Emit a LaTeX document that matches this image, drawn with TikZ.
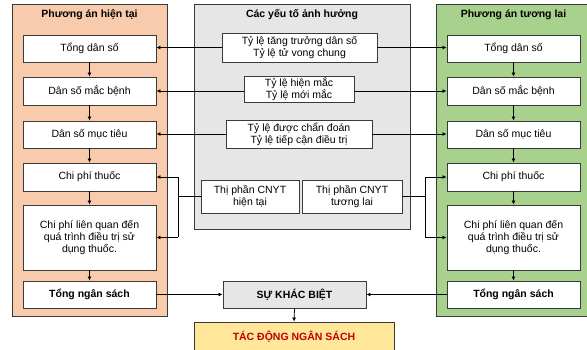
\documentclass[tikz,border=0pt]{standalone}
\usepackage{fontspec}
\setmainfont{Liberation Sans}
\usetikzlibrary{arrows.meta}
\definecolor{peach}{HTML}{F8CBAD}
\definecolor{leaf}{HTML}{A9D18E}
\definecolor{panelgray}{HTML}{E6E6E6}
\definecolor{edge}{HTML}{3A3A3A}
\definecolor{gold}{HTML}{FFE699}
\definecolor{redtext}{HTML}{C00000}
\begin{document}
\begin{tikzpicture}[x=1pt,y=-1pt,
  panel/.style={draw=edge, line width=0.9pt, anchor=center, inner sep=0pt},
  ptitle/.style={font=\fontsize{10.5}{12}\selectfont\bfseries, inner sep=0pt},
  cbox/.style={draw=edge, fill=white, line width=0.9pt, anchor=center, inner sep=1pt,
     align=center, font=\fontsize{10.5}{12}\selectfont},
  arr/.style={draw=black, line width=0.8pt, -{Latex[length=4pt,width=4pt]}},
  ln/.style={draw=black, line width=0.8pt}]
\clip (0,0) rectangle (587,350);
\fill[white] (0,0) rectangle (587,350);
% panels
\node[panel, fill=peach, minimum width=155pt, minimum height=312pt] (pl) at (89.5,160) {};
\node[panel, fill=leaf, minimum width=155pt, minimum height=312pt] (pr) at (513.5,160) {};
\node[panel, fill=panelgray, minimum width=216pt, minimum height=225pt] (pm) at (302,116.5) {};
\node[ptitle] (tl) at (89.5,15) {Phương án hiện tại};
\node[ptitle] (tr) at (513.5,15) {Phương án tương lai};
\node[ptitle] (tm) at (302,15) {Các yếu tố ảnh hưởng};
% left column
\node[cbox, minimum width=133pt, minimum height=27pt] (L1) at (89.5,48.5) {Tổng dân số};
\node[cbox, minimum width=133pt, minimum height=28pt] (L2) at (89.5,91) {Dân số mắc bệnh};
\node[cbox, minimum width=133pt, minimum height=27pt] (L3) at (89.5,134.5) {Dân số mục tiêu};
\node[cbox, minimum width=133pt, minimum height=28pt] (L4) at (89.5,177) {Chi phí thuốc};
\node[cbox, minimum width=133pt, minimum height=65pt] (L5) at (89.5,237.5) {Chi phí liên quan đến\\quá trình điều trị sử\\dụng thuốc.};
\node[cbox, minimum width=133pt, minimum height=27pt, font=\fontsize{10.5}{12}\selectfont\bfseries] (L6) at (89.5,294.5) {Tổng ngân sách};
% right column
\node[cbox, minimum width=133pt, minimum height=27pt] (R1) at (513.5,48.5) {Tổng dân số};
\node[cbox, minimum width=133pt, minimum height=28pt] (R2) at (513.5,91) {Dân số mắc bệnh};
\node[cbox, minimum width=133pt, minimum height=27pt] (R3) at (513.5,134.5) {Dân số mục tiêu};
\node[cbox, minimum width=133pt, minimum height=28pt] (R4) at (513.5,177) {Chi phí thuốc};
\node[cbox, minimum width=133pt, minimum height=65pt] (R5) at (513.5,237.5) {Chi phí liên quan đến\\quá trình điều trị sử\\dụng thuốc.};
\node[cbox, minimum width=133pt, minimum height=27pt, font=\fontsize{10.5}{12}\selectfont\bfseries] (R6) at (513.5,294.5) {Tổng ngân sách};
% factors
\node[cbox, minimum width=155pt, minimum height=29pt] (F1) at (299.5,47.5) {Tỷ lệ tăng trưởng dân số\\Tỷ lệ tử vong chung};
\node[cbox, minimum width=110pt, minimum height=25pt] (F2) at (299,89.5) {Tỷ lệ hiện mắc\\Tỷ lệ mới mắc};
\node[cbox, minimum width=146pt, minimum height=28pt] (F3) at (299,134) {Tỷ lệ được chẩn đoán\\Tỷ lệ tiếp cận điều trị};
\node[cbox, minimum width=98pt, minimum height=33pt] (F4) at (250,196.5) {Thị phần CNYT\\hiện tại};
\node[cbox, minimum width=100pt, minimum height=33pt] (F5) at (352,196.5) {Thị phần CNYT\\tương lai};
% bottom
\node[cbox, fill=panelgray, minimum width=143pt, minimum height=27pt, font=\fontsize{10.5}{12}\selectfont\bfseries] (D) at (294.5,294.5) {SỰ KHÁC BIỆT};
\node[cbox, fill=gold, minimum width=200pt, minimum height=30pt, text=redtext, font=\fontsize{10.5}{12}\selectfont\bfseries] (B) at (294,337) {TÁC ĐỘNG NGÂN SÁCH};
% vertical chain arrows
\foreach \a/\b in {L1/L2,L2/L3,L3/L4,L4/L5,L5/L6,R1/R2,R2/R3,R3/R4,R4/R5,R5/R6}
  \draw[arr] (\a.south) -- (\b.north);
% factor connectors
\draw[arr] (F1.west) -- (F1.west -| L1.east);
\draw[arr] (F1.east) -- (F1.east -| R1.west);
\draw[arr] (F2.west |- L2.east) -- (L2.east);
\draw[arr] (F2.east |- R2.west) -- (R2.west);
\draw[arr] (F3.west) -- (F3.west -| L3.east);
\draw[arr] (F3.east) -- (F3.east -| R3.west);
% market share buses
\coordinate (bl) at (178,196.5);
\coordinate (br) at (425,196.5);
\draw[ln] (F4.west) -- (bl);
\draw[ln] (bl |- L4.east) -- (bl |- L5.east);
\draw[arr] (bl |- L4.east) -- (L4.east);
\draw[arr] (bl |- L5.east) -- (L5.east);
\draw[ln] (F5.east) -- (br);
\draw[ln] (br |- R4.west) -- (br |- R5.west);
\draw[arr] (br |- R4.west) -- (R4.west);
\draw[arr] (br |- R5.west) -- (R5.west);
% totals to difference
\draw[arr] (L6.east) -- (D.west);
\draw[arr] (R6.west) -- (D.east);
\draw[arr] (D.south) -- (B.north);
\end{tikzpicture}
\end{document}
